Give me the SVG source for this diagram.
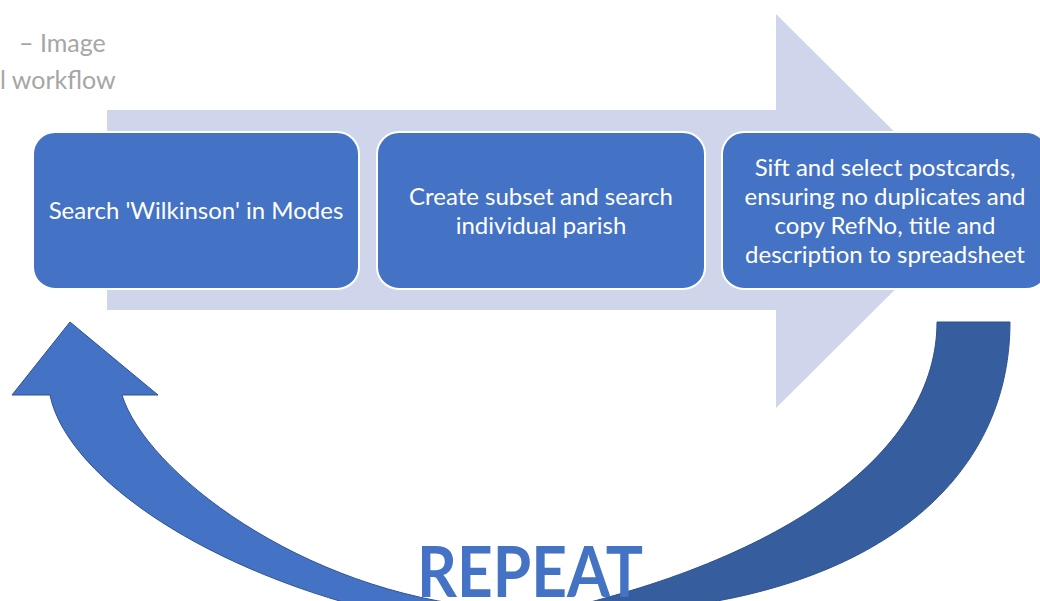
<svg xmlns="http://www.w3.org/2000/svg" width="1040" height="601" viewBox="0 0 1040 601">
  <style>
    .caption { font-family: Lato, "Open Sans", "Liberation Sans", sans-serif; font-size: 25px; fill: #A6A6A6; }
    .step { fill: #4472C4; stroke: #FFFFFF; stroke-width: 2; }
    .label { font-family: Lato, "Open Sans", "Liberation Sans", sans-serif; font-size: 24px; fill: #FFFFFF; text-anchor: middle; }
    .loop-front { fill: #4472C4; stroke: #2F528F; stroke-width: 1; stroke-linejoin: miter; }
    .loop-back { fill: #365D9D; stroke: #2F528F; stroke-width: 1; }
    .repeat { font-family: Lato, "Open Sans", "Liberation Sans", sans-serif; font-weight: bold; font-size: 70px; fill: #4472C4; }
  </style>

  <rect width="1040" height="601" fill="#FFFFFF"/>

  <!-- heading fragments at the top left -->
  <text class="caption" x="19" y="52">– Image</text>
  <text class="caption" x="0" y="89">l workflow</text>

  <!-- broad process arrow behind the steps -->
  <polygon id="process-arrow" points="107,110 776,110 776,14 974,211 776,408 776,310 107,310" fill="#CFD5EA"/>

  <!-- loop arrow: shaded back section on the right, front section with head on the left -->
  <g id="connectors">
    <path class="loop-back" d="M 937,322 L 1010,322 C 1010,490 860,600 620,612 L 540,614 C 790,560 937,450 937,322 Z"/>
    <path class="loop-front" d="M 50,395 L 12,395 L 70,322 L 158,395 L 122,395 C 145,470 300,592 490,608 L 380,612 C 190,565 65,470 50,395 Z"/>
  </g>

  <g id="step-1">
    <rect class="step" x="33" y="132" width="326" height="157" rx="22" ry="22"/>
    <text class="label" x="196" y="219">Search 'Wilkinson' in Modes</text>
  </g>

  <g id="step-2">
    <rect class="step" x="377" y="132" width="328" height="157" rx="22" ry="22"/>
    <text class="label" x="541" y="205">Create subset and search</text>
    <text class="label" x="541" y="234">individual parish</text>
  </g>

  <g id="step-3">
    <rect class="step" x="722" y="132" width="326" height="157" rx="22" ry="22"/>
    <text class="label" x="885" y="176">Sift and select postcards,</text>
    <text class="label" x="885" y="205">ensuring no duplicates and</text>
    <text class="label" x="885" y="234">copy RefNo, title and</text>
    <text class="label" x="885" y="263">description to spreadsheet</text>
  </g>

  <text id="repeat-label" class="repeat" x="417" y="597" textLength="226" lengthAdjust="spacingAndGlyphs">REPEAT</text>
</svg>
